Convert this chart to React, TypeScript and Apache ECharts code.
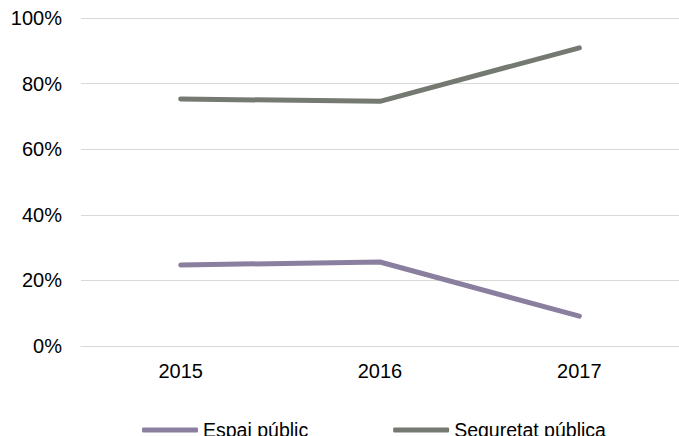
import React, { useEffect, useRef } from "react";
import * as echarts from "echarts";

const categories = ["2015", "2016", "2017"];
const espaiPublic = [24.7, 25.6, 9.1];
const seguretatPublica = [75.3, 74.6, 90.9];
const seriesNames = ["Espai públic", "Seguretat pública"];

export default function App() {
  const ref = useRef<HTMLDivElement>(null);
  useEffect(() => {
    if (!ref.current) return;
    const chart = echarts.init(ref.current, null, { renderer: "svg" });
    const font = "'Liberation Sans', Arial, sans-serif";
    chart.setOption({
      animation: false,
      textStyle: { fontFamily: font },
      grid: { left: 81, width: 608, top: 18, bottom: 90, containLabel: false },
      legend: {
        left: 137,
        top: 415,
        itemWidth: 56,
        itemHeight: 5,
        itemGap: 85,
        icon: "roundRect",
        textStyle: { fontSize: 19.5, color: "#000", fontFamily: font, padding: [0, 0, 6, 0] },
        data: seriesNames,
      },
      xAxis: {
        type: "category",
        data: categories,
        boundaryGap: true,
        axisLine: { show: true, lineStyle: { color: "#d9d9d9", width: 1 } },
        axisTick: { show: false },
        axisLabel: { fontSize: 20, color: "#000", margin: 15, fontFamily: font },
      },
      yAxis: {
        type: "value",
        min: 0,
        max: 100,
        interval: 20,
        axisLine: { show: false },
        axisTick: { show: false },
        splitLine: { lineStyle: { color: "#d9d9d9", width: 1 } },
        axisLabel: { fontSize: 20, color: "#000", margin: 19, formatter: "{value}%", fontFamily: font },
      },
      series: [
        {
          name: seriesNames[0],
          type: "line",
          data: espaiPublic,
          symbol: "none",
          itemStyle: { color: "#8a7f9e" },
          lineStyle: { color: "#8a7f9e", width: 5, cap: "round", join: "round" },
        },
        {
          name: seriesNames[1],
          type: "line",
          data: seguretatPublica,
          symbol: "none",
          itemStyle: { color: "#747a72" },
          lineStyle: { color: "#747a72", width: 5, cap: "round", join: "round" },
        },
      ],
    });
    return () => chart.dispose();
  }, []);
  return <div ref={ref} style={{ width: 679, height: 436, position: "absolute", left: 0, top: 0 }} />;
}
